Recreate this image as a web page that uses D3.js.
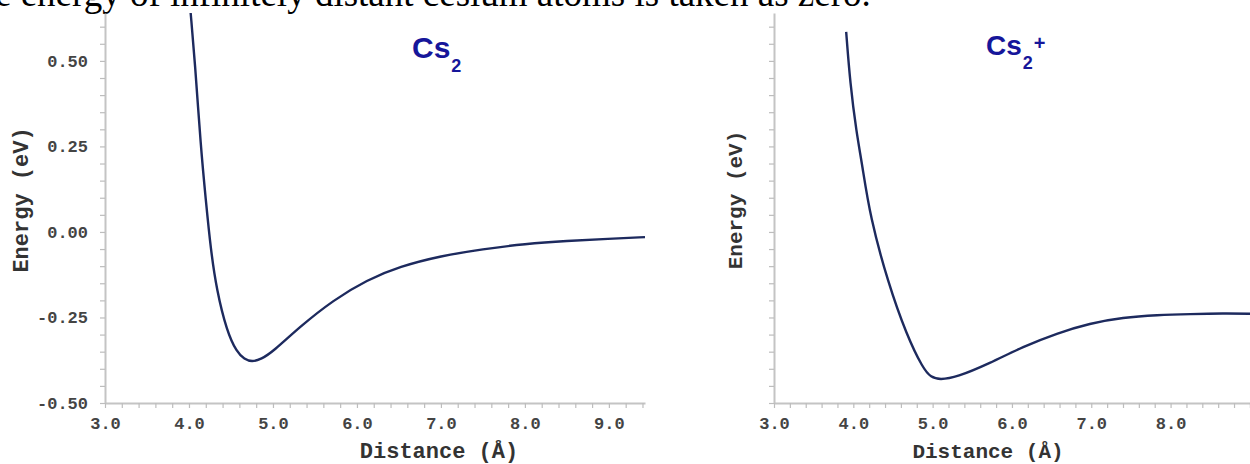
<!DOCTYPE html>
<html>
    <head>
        <title>Cs2 and Cs2+ potential energy curves</title>
        <script src="https://d3js.org/d3.v7.min.js"></script>
    </head>
    <style>
        body {
            margin: 0;
            background: #fff;
        }
        svg {
            display: block;
        }
        .tick text {
            font-family: "Liberation Mono", "Courier New", monospace;
            font-weight: bold;
            font-size: 17px;
            fill: #444;
        }
        .axis-title {
            font-family: "Liberation Mono", "Courier New", monospace;
            font-weight: bold;
            fill: #333;
        }
        .mol {
            font-family: "Liberation Sans", Arial, sans-serif;
            font-weight: bold;
            fill: #16169a;
        }
    </style>
    <body>

        <div id="chart"></div>

        <script>

            // Cs2 curve, distance in Å and energy in eV
            const cs2Distance = [4.02, 4.07, 4.14, 4.20, 4.26, 4.33, 4.45, 4.57, 4.66, 4.75, 4.86, 5.00, 5.32, 5.72, 6.12, 6.51, 7.0, 7.5, 8.0, 8.5, 9.0, 9.43];
            const cs2Energy   = [0.64, 0.50, 0.25, 0.094, -0.053, -0.17, -0.290, -0.352, -0.372, -0.380, -0.372, -0.350, -0.277, -0.199, -0.140, -0.101, -0.070, -0.050, -0.035, -0.026, -0.020, -0.015];

            // Cs2+ curve
            const cs2pDistance = [3.91, 3.96, 4.04, 4.11, 4.21, 4.44, 4.67, 4.88, 4.98, 5.09, 5.30, 5.72, 6.14, 6.57, 6.98, 7.40, 7.83, 8.25, 8.67, 9.0, 9.43];
            const cs2pEnergy   = [0.585, 0.435, 0.29, 0.20, 0.045, -0.150, -0.300, -0.400, -0.425, -0.432, -0.425, -0.384, -0.335, -0.296, -0.267, -0.250, -0.243, -0.240, -0.238, -0.239, -0.240];

            // Tick values
            const yTicks = d3.range(-0.5, 0.61, 0.05).map(v => +v.toFixed(2));
            const yLabels = [-0.5, -0.25, 0, 0.25, 0.5];
            const xTicks = d3.range(3, 9.41, 0.2).map(v => +v.toFixed(1));
            const xLabelsLeft = [3, 4, 5, 6, 7, 8, 9];
            const xLabelsRight = [3, 4, 5, 6, 7, 8];

            const width = 1250, height = 464;

            const svg = d3.select("#chart")
                .append("svg")
                .attr("width", width)
                .attr("height", height);

            // Sentence cut off at the top of the picture
            svg.append("text")
                .attr("x", -5)
                .attr("y", 6)
                .attr("font-family", "Liberation Serif, Times New Roman, serif")
                .attr("font-size", 37)
                .attr("fill", "#000")
                .text("e energy of infinitely distant cesium atoms is taken as zero.");

            const fmt = (f) => (d) => d3.format(f)(d).replace("\u2212", "-");

            function panel(opt) {
                const g = svg.append("g");

                const x = d3.scaleLinear().domain([3, 9.43]).range([opt.left, opt.right]);
                const y = d3.scaleLinear().domain([-0.5, 0.64]).range([403, 13]);

                // y axis: minor ticks every 0.05, labels only on the left panel
                const yAxis = g.append("g")
                    .attr("transform", `translate(${opt.left},0)`)
                    .call(d3.axisLeft(y)
                        .tickValues(yTicks)
                        .tickSize(5)
                        .tickSizeOuter(0)
                        .tickPadding(12)
                        .tickFormat(d => opt.yLabels && yLabels.some(v => Math.abs(v - d) < 1e-6) ? fmt(".2f")(d) : ""));

                // x axis: minor ticks every 0.2
                const xAxis = g.append("g")
                    .attr("transform", "translate(0,403)")
                    .call(d3.axisBottom(x)
                        .tickValues(xTicks)
                        .tickSize(5)
                        .tickSizeOuter(0)
                        .tickPadding(9)
                        .tickFormat(d => opt.xLabels.some(v => Math.abs(v - d) < 1e-6) ? fmt(".1f")(d) : ""));

                [yAxis, xAxis].forEach(a => {
                    a.select(".domain").attr("stroke", "#c4c4c4").attr("stroke-width", 2);
                    a.selectAll(".tick line").attr("stroke", "#bdbdbd").attr("stroke-width", 1.2);
                });

                // the curve
                const data = d3.zip(opt.dist, opt.energy);
                g.append("path")
                    .datum(data)
                    .attr("fill", "none")
                    .attr("stroke", "#1d2a5e")
                    .attr("stroke-width", 2.4)
                    .attr("stroke-linejoin", "round")
                    .attr("d", d3.line()
                        .x(d => x(d[0]))
                        .y(d => y(d[1]))
                        .curve(d3.curveBasis));

                // axis titles
                g.append("text")
                    .attr("class", "axis-title")
                    .attr("font-size", opt.titleSize)
                    .attr("x", opt.xTitleX)
                    .attr("y", 458)
                    .attr("text-anchor", "middle")
                    .text("Distance (\u00c5)");

                g.append("text")
                    .attr("class", "axis-title")
                    .attr("font-size", opt.titleSize)
                    .attr("transform", `translate(${opt.yTitleX},200) rotate(-90)`)
                    .attr("text-anchor", "middle")
                    .attr("dy", "0.35em")
                    .text("Energy (eV)");

                // molecule label
                const t = g.append("text")
                    .attr("class", "mol")
                    .attr("x", opt.molX)
                    .attr("y", opt.molY)
                    .attr("font-size", opt.molSize)
                    .text("Cs");
                t.append("tspan").attr("font-size", 18).attr("dx", 1).attr("dy", 14).text("2");
                if (opt.plus) {
                    t.append("tspan").attr("font-size", 20).attr("dx", 1).attr("dy", -19).text("+");
                }
            }

            panel({
                left: 105, right: 645,
                dist: cs2Distance, energy: cs2Energy,
                yLabels: true, xLabels: xLabelsLeft,
                xTitleX: 439, yTitleX: 20, titleSize: 22,
                molX: 412, molY: 58, molSize: 30, plus: false
            });

            panel({
                left: 774, right: 1284,
                dist: cs2pDistance, energy: cs2pEnergy,
                yLabels: false, xLabels: xLabelsRight,
                xTitleX: 988, yTitleX: 735, titleSize: 21,
                molX: 986, molY: 55, molSize: 28, plus: true
            });

        </script>

    </body>
</html>
